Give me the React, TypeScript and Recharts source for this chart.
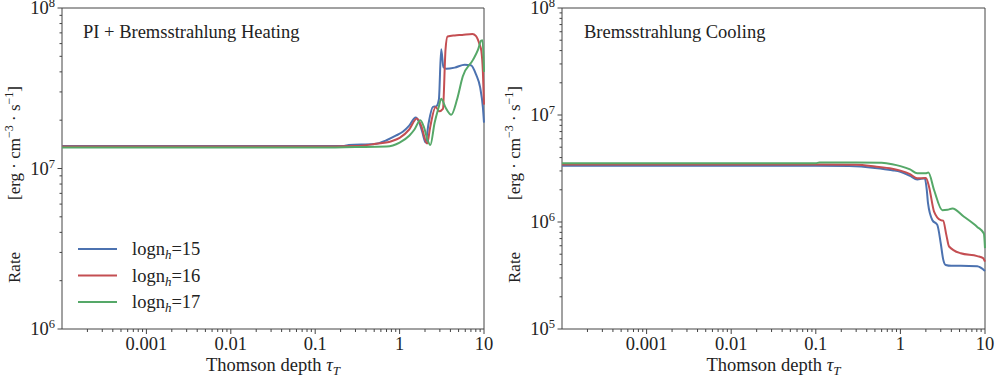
import { LineChart, Line, XAxis, YAxis, ReferenceArea } from 'recharts';

// heating panel (erg cm^-3 s^-1)
const heatX15 = [1e-4, 0.01, 0.1, 0.22, 0.25, 0.5, 0.7, 0.9, 1.1, 1.3, 1.55, 1.7, 1.85, 2.03, 2.2, 2.48, 2.72, 2.92, 3.11, 3.3, 3.57, 4.5, 5.9, 7.0, 8.07, 9.0, 9.7, 10];
const heatY15 = [1.38e7, 1.38e7, 1.38e7, 1.38e7, 1.4e7, 1.42e7, 1.5e7, 1.6e7, 1.7e7, 1.85e7, 2.08e7, 1.95e7, 1.7e7, 1.45e7, 1.9e7, 2.42e7, 2.44e7, 2.69e7, 5.54e7, 4.3e7, 4.18e7, 4.25e7, 4.43e7, 4.4e7, 3.84e7, 3.2e7, 2.4e7, 1.93e7];
const heatX16 = [1e-4, 0.1, 0.3, 0.5, 0.8, 1.0, 1.3, 1.6, 1.8, 2.12, 2.3, 2.67, 2.95, 3.26, 3.5, 3.7, 4.5, 5.5, 7.3, 8.0, 8.8, 9.3, 9.7, 10];
const heatY16 = [1.37e7, 1.37e7, 1.38e7, 1.42e7, 1.48e7, 1.55e7, 1.75e7, 2.05e7, 1.85e7, 1.43e7, 1.8e7, 2.42e7, 2.27e7, 2.35e7, 5.5e7, 6.64e7, 6.75e7, 6.8e7, 6.89e7, 6.7e7, 6.0e7, 5.4e7, 4.0e7, 2.5e7];
const heatX17 = [1e-4, 0.1, 0.3, 0.7, 1.0, 1.3, 1.5, 1.76, 1.95, 2.15, 2.31, 2.6, 2.9, 3.11, 3.5, 4.09, 4.8, 5.6, 7.4, 8.5, 9.26, 9.6, 10];
const heatY17 = [1.35e7, 1.35e7, 1.36e7, 1.37e7, 1.45e7, 1.6e7, 1.75e7, 2.0e7, 1.8e7, 1.5e7, 1.4e7, 1.93e7, 2.4e7, 2.72e7, 2.4e7, 2.16e7, 2.7e7, 3.74e7, 4.75e7, 5.5e7, 6.27e7, 6.3e7, 4.0e7];

// cooling panel
const coolX15 = [1e-4, 0.1, 0.25, 0.5, 0.8, 1.0, 1.3, 1.58, 1.94, 2.05, 2.12, 2.39, 2.73, 3.0, 3.2, 3.43, 4.0, 5.16, 8.1, 10];
const coolY15 = [3.36e6, 3.36e6, 3.33e6, 3.2e6, 3.05e6, 2.95e6, 2.7e6, 2.5e6, 2.56e6, 2.0e6, 1.5e6, 1.04e6, 9.4e5, 6.3e5, 4.5e5, 3.97e5, 3.9e5, 3.9e5, 3.85e5, 3.48e5];
const coolX16 = [1e-4, 0.1, 0.3, 0.5, 0.8, 1.0, 1.3, 1.58, 2.0, 2.18, 2.5, 3.0, 3.2, 3.5, 3.76, 5.16, 8.1, 9.5, 10];
const coolY16 = [3.44e6, 3.44e6, 3.42e6, 3.3e6, 3.15e6, 3.02e6, 2.8e6, 2.56e6, 2.58e6, 2.14e6, 1.25e6, 1.04e6, 1.03e6, 7.5e5, 5.9e5, 5.1e5, 4.8e5, 4.6e5, 4.27e5];
const coolX17 = [1e-4, 0.1, 0.11, 0.3, 0.6, 0.8, 1.0, 1.3, 1.58, 2.0, 2.14, 2.5, 3.13, 3.6, 4.12, 5.65, 8.1, 9.7, 10];
const coolY17 = [3.54e6, 3.54e6, 3.6e6, 3.6e6, 3.57e6, 3.47e6, 3.33e6, 3.1e6, 2.85e6, 2.85e6, 2.9e6, 1.99e6, 1.29e6, 1.3e6, 1.34e6, 1.12e6, 9.0e5, 7.8e5, 5.7e5];

const seriesNames = ['15', '16', '17'];
const colors = ['#4c72b0', '#c44e52', '#55a868'];

const xMajor = [1e-3, 1e-2, 0.1, 1, 10];
const xLabels = ['0.001', '0.01', '0.1', '1', '10'];
const xDecades = [1e-4, 1e-3, 1e-2, 0.1, 1];
const minorMult = [2, 3, 4, 5, 6, 7, 8, 9];

const heatYMajor = [1e6, 1e7, 1e8];
const heatYExp = ['6', '7', '8'];
const heatYDecades = [1e6, 1e7];
const coolYMajor = [1e5, 1e6, 1e7, 1e8];
const coolYExp = ['5', '6', '7', '8'];
const coolYDecades = [1e5, 1e6, 1e7];

const FONT = '"Liberation Serif", "Times New Roman", Times, "DejaVu Serif", serif';
const AXIS = '#444';
const FS = 18.5;

const zip = (xs: number[], ys: number[]) => xs.map((x, i) => ({ x, y: ys[i] }));
const minors = (decades: number[]) =>
  decades.flatMap(d => minorMult.map(m => Number((m * d).toPrecision(3))));

const xTicks = [...xMajor, ...minors(xDecades)];

function XTick(props: any) {
  const { x, y, payload } = props;
  const i = xMajor.indexOf(payload.value);
  if (i < 0) return <line x1={x} x2={x} y1={y} y2={y + 3} stroke={AXIS} />;
  return (
    <g>
      <line x1={x} x2={x} y1={y} y2={y + 5} stroke={AXIS} />
      <text x={x} y={y + 21} textAnchor="middle" fontSize={FS} style={{ fontFamily: FONT }} fill="#222">
        {xLabels[i]}
      </text>
    </g>
  );
}

const makeYTick = (major: number[], exps: string[]) => (props: any) => {
  const { x, y, payload } = props;
  const i = major.indexOf(payload.value);
  if (i < 0) return <line x1={x - 2.5} x2={x} y1={y} y2={y} stroke={AXIS} />;
  return (
    <g>
      <line x1={x - 4.5} x2={x} y1={y} y2={y} stroke={AXIS} />
      <text x={x - 7} y={y + 6} textAnchor="end" fontSize={FS} style={{ fontFamily: FONT }} fill="#222">
        10<tspan dy={-7} fontSize={12.5}>{exps[i]}</tspan>
      </text>
    </g>
  );
};

function XLabel(props: any) {
  const vb = props.viewBox;
  return (
    <text x={vb.x + vb.width / 2} y={vb.y + 42} textAnchor="middle" fontSize={FS} style={{ fontFamily: FONT }} fill="#222">
      Thomson depth <tspan fontStyle="italic">τ</tspan>
      <tspan fontStyle="italic" fontSize={13} dy={4}>T</tspan>
    </text>
  );
}

function YLabel(props: any) {
  const vb = props.viewBox;
  const cx = vb.x + 14;
  const bottom = vb.y + vb.height;
  return (
    <g fontSize={17} style={{ fontFamily: FONT }} fill="#222">
      <text x={cx} y={bottom - 46} transform={`rotate(-90 ${cx} ${bottom - 46})`} dy={6}>Rate</text>
      <text x={cx} y={bottom - 129} transform={`rotate(-90 ${cx} ${bottom - 129})`} dy={6}>
        [erg · cm<tspan dy={-7} fontSize={12}>−3</tspan>
        <tspan dy={7}> · s</tspan>
        <tspan dy={-7} fontSize={12}>−1</tspan>
        <tspan dy={7}>]</tspan>
      </text>
    </g>
  );
}

type Panel = {
  xs: number[][];
  ys: number[][];
  yMajor: number[];
  yExp: string[];
  yDecades: number[];
  right: number;
};

function RatePanel({ xs, ys, yMajor, yExp, yDecades, right }: Panel) {
  const yTicks = [...yMajor, ...minors(yDecades)];
  const yDomain = [yMajor[0], yMajor[yMajor.length - 1]];
  return (
    <LineChart width={500} height={378} margin={{ top: 8, right, bottom: 0, left: 0 }}>
      <XAxis
        type="number"
        dataKey="x"
        scale="log"
        domain={[1e-4, 10]}
        ticks={xTicks}
        interval={0}
        tick={<XTick />}
        tickLine={false}
        tickSize={0}
        tickMargin={0}
        axisLine={false}
        height={49}
        label={<XLabel />}
      />
      <YAxis
        type="number"
        dataKey="y"
        scale="log"
        domain={yDomain}
        ticks={yTicks}
        interval={0}
        tick={makeYTick(yMajor, yExp)}
        tickLine={false}
        tickSize={0}
        tickMargin={0}
        axisLine={false}
        width={62}
        label={<YLabel />}
      />
      {xs.map((xv, i) => (
        <Line
          key={seriesNames[i]}
          data={zip(xv, ys[i])}
          dataKey="y"
          name={'logn_h=' + seriesNames[i]}
          type="monotone"
          stroke={colors[i]}
          strokeWidth={2}
          dot={false}
          isAnimationActive={false}
        />
      ))}
      <ReferenceArea x1={1e-4} x2={10} y1={yDomain[0]} y2={yDomain[1]} fill="none" stroke={AXIS} strokeWidth={1} fillOpacity={0} ifOverflow="visible" />
    </LineChart>
  );
}

export default function App() {
  return (
    <div style={{ position: 'absolute', left: 0, top: 0, width: 997, height: 378, background: '#fff', fontFamily: FONT }}>
      <div style={{ position: 'absolute', left: 0, top: 0 }}>
        <RatePanel xs={[heatX15, heatX16, heatX17]} ys={[heatY15, heatY16, heatY17]} yMajor={heatYMajor} yExp={heatYExp} yDecades={heatYDecades} right={16} />
      </div>
      <div style={{ position: 'absolute', left: 500, top: 0 }}>
        <RatePanel xs={[coolX15, coolX16, coolX17]} ys={[coolY15, coolY16, coolY17]} yMajor={coolYMajor} yExp={coolYExp} yDecades={coolYDecades} right={15} />
      </div>
      <svg width={997} height={378} style={{ position: 'absolute', left: 0, top: 0, pointerEvents: 'none', fontFamily: FONT }} fill="#222">
        <text x={83} y={38} fontSize={FS}>PI + Bremsstrahlung Heating</text>
        <text x={584} y={38} fontSize={FS}>Bremsstrahlung Cooling</text>
        {seriesNames.map((n, i) => (
          <g key={n}>
            <line x1={78} x2={117} y1={249 + i * 26.5} y2={249 + i * 26.5} stroke={colors[i]} strokeWidth={2} />
            <text x={132} y={255 + i * 26.5} fontSize={FS}>
              logn<tspan fontStyle="italic" fontSize={13} dy={4}>h</tspan>
              <tspan dy={-4}>={n}</tspan>
            </text>
          </g>
        ))}
      </svg>
    </div>
  );
}
